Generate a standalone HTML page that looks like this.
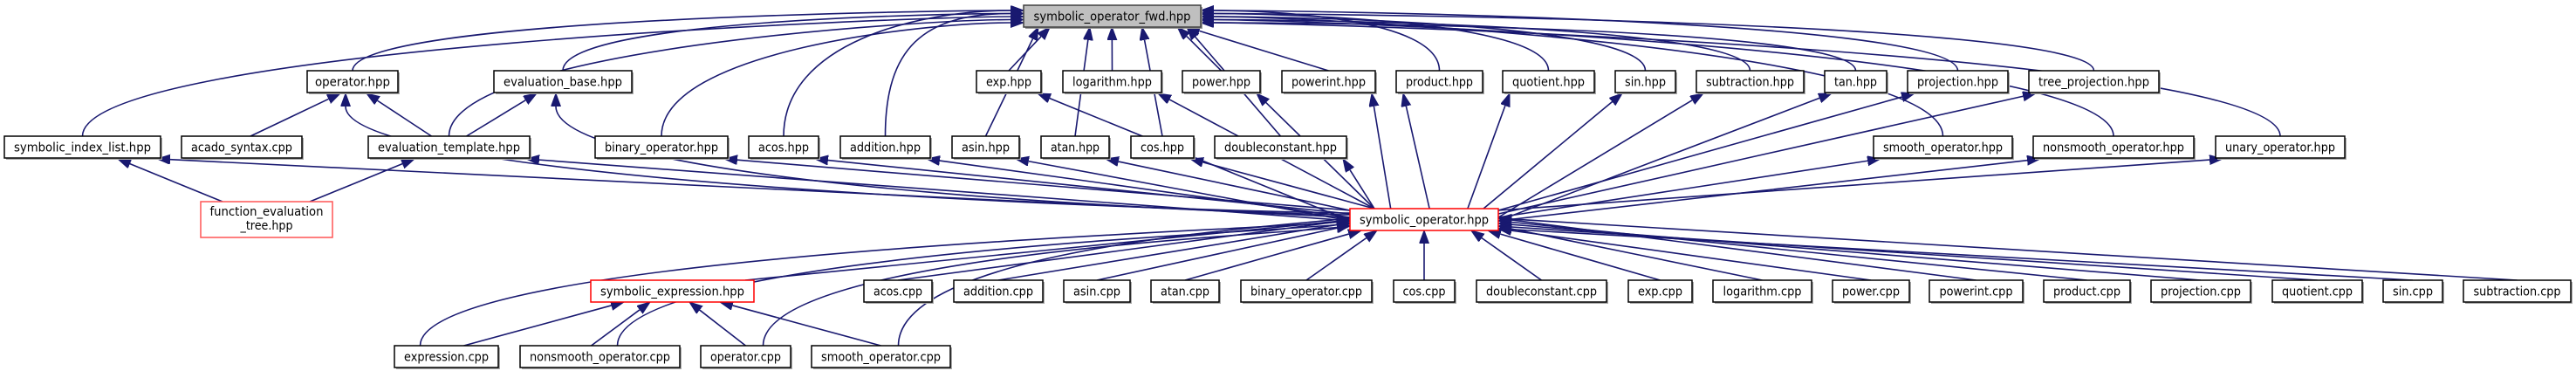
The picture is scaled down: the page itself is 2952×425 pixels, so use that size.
<!DOCTYPE html>
<html><head><meta charset="utf-8"><style>
html,body{margin:0;padding:0;background:#fff;width:2952px;height:425px;overflow:hidden;position:relative}
svg{display:block}
text{font-family:"DejaVu Sans","Liberation Sans",sans-serif;font-size:14px;fill:#000}
</style></head><body>
<svg id="s" width="2952" height="425" viewBox="0 0 2952 425" xmlns="http://www.w3.org/2000/svg" style="position:absolute;left:0;top:0">
<defs><marker id="a" markerUnits="userSpaceOnUse" markerWidth="16" markerHeight="12" refX="0" refY="5.5" orient="auto"><path d="M0,0 L15,5.5 L0,11 z" fill="#191970" stroke="#191970"/></marker></defs>
<g id="edges" fill="none" stroke="#191970" stroke-width="1.6"></g>
<g id="plain"></g>
<rect x="1175" y="8" width="203" height="25" fill="#999"/><rect x="1173" y="6" width="203" height="25" fill="#bfbfbf" stroke="#404040" stroke-width="1.5"/><text x="1274.5" y="23.5" text-anchor="middle" textLength="180" lengthAdjust="spacingAndGlyphs">symbolic_operator_fwd.hpp</text>
<rect x="1547" y="239" width="170" height="25" fill="#fff" stroke="#f00" stroke-width="1.5"/><text x="1632" y="256.5" text-anchor="middle" textLength="148" lengthAdjust="spacingAndGlyphs">symbolic_operator.hpp</text>
<rect x="230" y="231" width="151" height="41" fill="#fff" stroke="#f55" stroke-width="1.5"/><text x="305.5" y="247" text-anchor="middle" textLength="130" lengthAdjust="spacingAndGlyphs">function_evaluation</text><text x="305.5" y="263" text-anchor="middle" textLength="60" lengthAdjust="spacingAndGlyphs">_tree.hpp</text>
<rect x="677" y="321" width="187" height="25" fill="#fff" stroke="#f00" stroke-width="1.5"/><text x="770.5" y="338.5" text-anchor="middle" textLength="165" lengthAdjust="spacingAndGlyphs">symbolic_expression.hpp</text>
</svg>
<svg width="2952" height="425" viewBox="0 0 2952 425" xmlns="http://www.w3.org/2000/svg" style="position:absolute;left:0;top:0">
<g text-anchor="middle">
<text x="404" y="98.5" textLength="86" lengthAdjust="spacingAndGlyphs">operator.hpp</text>
<text x="645" y="98.5" textLength="136" lengthAdjust="spacingAndGlyphs">evaluation_base.hpp</text>
<text x="94.5" y="173.5" textLength="157" lengthAdjust="spacingAndGlyphs">symbolic_index_list.hpp</text>
<text x="277" y="173.5" textLength="116" lengthAdjust="spacingAndGlyphs">acado_syntax.cpp</text>
<text x="514.5" y="173.5" textLength="163" lengthAdjust="spacingAndGlyphs">evaluation_template.hpp</text>
<text x="758" y="173.5" textLength="130" lengthAdjust="spacingAndGlyphs">binary_operator.hpp</text>
<text x="898" y="173.5" textLength="58" lengthAdjust="spacingAndGlyphs">acos.hpp</text>
<text x="1014.5" y="173.5" textLength="81" lengthAdjust="spacingAndGlyphs">addition.hpp</text>
<text x="1129.5" y="173.5" textLength="55" lengthAdjust="spacingAndGlyphs">asin.hpp</text>
<text x="1232" y="173.5" textLength="56" lengthAdjust="spacingAndGlyphs">atan.hpp</text>
<text x="1332" y="173.5" textLength="50" lengthAdjust="spacingAndGlyphs">cos.hpp</text>
<text x="1467.5" y="173.5" textLength="129" lengthAdjust="spacingAndGlyphs">doubleconstant.hpp</text>
<text x="1156" y="98.5" textLength="52" lengthAdjust="spacingAndGlyphs">exp.hpp</text>
<text x="1274.5" y="98.5" textLength="91" lengthAdjust="spacingAndGlyphs">logarithm.hpp</text>
<text x="1399.5" y="98.5" textLength="67" lengthAdjust="spacingAndGlyphs">power.hpp</text>
<text x="1522.5" y="98.5" textLength="85" lengthAdjust="spacingAndGlyphs">powerint.hpp</text>
<text x="1649.5" y="98.5" textLength="77" lengthAdjust="spacingAndGlyphs">product.hpp</text>
<text x="1774.5" y="98.5" textLength="83" lengthAdjust="spacingAndGlyphs">quotient.hpp</text>
<text x="1885.5" y="98.5" textLength="47" lengthAdjust="spacingAndGlyphs">sin.hpp</text>
<text x="2005.5" y="98.5" textLength="101" lengthAdjust="spacingAndGlyphs">subtraction.hpp</text>
<text x="2126.5" y="98.5" textLength="49" lengthAdjust="spacingAndGlyphs">tan.hpp</text>
<text x="2243.5" y="98.5" textLength="93" lengthAdjust="spacingAndGlyphs">projection.hpp</text>
<text x="2399.5" y="98.5" textLength="127" lengthAdjust="spacingAndGlyphs">tree_projection.hpp</text>
<text x="2226.5" y="173.5" textLength="137" lengthAdjust="spacingAndGlyphs">smooth_operator.hpp</text>
<text x="2422" y="173.5" textLength="162" lengthAdjust="spacingAndGlyphs">nonsmooth_operator.hpp</text>
<text x="2613" y="173.5" textLength="126" lengthAdjust="spacingAndGlyphs">unary_operator.hpp</text>
<text x="1029" y="338.5" textLength="56" lengthAdjust="spacingAndGlyphs">acos.cpp</text>
<text x="1144" y="338.5" textLength="80" lengthAdjust="spacingAndGlyphs">addition.cpp</text>
<text x="1257" y="338.5" textLength="54" lengthAdjust="spacingAndGlyphs">asin.cpp</text>
<text x="1358" y="338.5" textLength="56" lengthAdjust="spacingAndGlyphs">atan.cpp</text>
<text x="1497" y="338.5" textLength="128" lengthAdjust="spacingAndGlyphs">binary_operator.cpp</text>
<text x="1632" y="338.5" textLength="49" lengthAdjust="spacingAndGlyphs">cos.cpp</text>
<text x="1766.5" y="338.5" textLength="127" lengthAdjust="spacingAndGlyphs">doubleconstant.cpp</text>
<text x="1902.5" y="338.5" textLength="51" lengthAdjust="spacingAndGlyphs">exp.cpp</text>
<text x="2019.5" y="338.5" textLength="90" lengthAdjust="spacingAndGlyphs">logarithm.cpp</text>
<text x="2144" y="338.5" textLength="66" lengthAdjust="spacingAndGlyphs">power.cpp</text>
<text x="2264.5" y="338.5" textLength="84" lengthAdjust="spacingAndGlyphs">powerint.cpp</text>
<text x="2391.5" y="338.5" textLength="77" lengthAdjust="spacingAndGlyphs">product.cpp</text>
<text x="2522" y="338.5" textLength="92" lengthAdjust="spacingAndGlyphs">projection.cpp</text>
<text x="2655.5" y="338.5" textLength="81" lengthAdjust="spacingAndGlyphs">quotient.cpp</text>
<text x="2765" y="338.5" textLength="46" lengthAdjust="spacingAndGlyphs">sin.cpp</text>
<text x="2884.5" y="338.5" textLength="100" lengthAdjust="spacingAndGlyphs">subtraction.cpp</text>
<text x="511.5" y="413.5" textLength="97" lengthAdjust="spacingAndGlyphs">expression.cpp</text>
<text x="687.5" y="413.5" textLength="161" lengthAdjust="spacingAndGlyphs">nonsmooth_operator.cpp</text>
<text x="854.5" y="413.5" textLength="81" lengthAdjust="spacingAndGlyphs">operator.cpp</text>
<text x="1009.5" y="413.5" textLength="137" lengthAdjust="spacingAndGlyphs">smooth_operator.cpp</text>
</g>
</svg>
<script>
var N={
opH:[352,456,81,1],evb:[566,724,81,1],
sil:[5,184,156,1],acs:[208,346,156,1],evt:[422,607,156,1],
bop:[682,834,156,1],acos:[858,938,156,1],add:[963,1066,156,1],asin:[1091,1168,156,1],
atan:[1193,1271,156,1],cos:[1296,1368,156,1],dc:[1392,1543,156,1],
exp:[1119,1193,81,1],log:[1218,1331,81,1],pow:[1355,1444,81,1],pint:[1469,1576,81,1],
prod:[1600,1699,81,1],quo:[1722,1827,81,1],sin:[1851,1920,81,1],sub:[1944,2067,81,1],
tan:[2091,2162,81,1],proj:[2186,2301,81,1],tproj:[2325,2474,81,1],
smh:[2147,2306,156,1],nsh:[2330,2514,156,1],uh:[2539,2687,156,1],
c_acos:[990,1068,321,1],c_add:[1093,1195,321,1],c_asin:[1219,1295,321,1],c_atan:[1319,1397,321,1],
c_bop:[1422,1572,321,1],c_cos:[1597,1667,321,1],c_dc:[1692,1841,321,1],c_exp:[1866,1939,321,1],
c_log:[1963,2076,321,1],c_pow:[2100,2188,321,1],c_pint:[2211,2318,321,1],c_prod:[2342,2441,321,1],
c_proj:[2465,2579,321,1],c_quo:[2604,2707,321,1],c_sin:[2731,2799,321,1],c_sub:[2823,2946,321,1],
expr:[452,571,396,1],nso:[596,779,396,1],opc:[803,906,396,1],smo:[930,1089,396,1],
se:[677,864,321]
};
var NS="http://www.w3.org/2000/svg";
var g=document.getElementById("edges");
function path(S,dS,E,dE,kf){
 var L=15;var m=Math.hypot(dE[0],dE[1]);dE=[dE[0]/m,dE[1]/m];
 var ex=E[0]-dE[0]*L,ey=E[1]-dE[1]*L;
 var d=Math.hypot(ex-S[0],ey-S[1]);var k=Math.min((kf||0.15)*d,Math.abs(ey-S[1])*0.6+20);
 var p=document.createElementNS(NS,"path");
 p.setAttribute("d","M"+S[0]+","+S[1]+" C"+(S[0]+dS[0]*k)+","+(S[1]+dS[1]*k)+" "+(ex-dE[0]*k)+","+(ey-dE[1]*k)+" "+ex+","+ey);
 p.setAttribute("marker-end","url(#a)");g.appendChild(p);
}
function cx(n){return (n[0]+n[1])/2}
function cl(v,a,b){return Math.max(a,Math.min(b,v))}
function dir(a,b){var x=b[0]-a[0],y=b[1]-a[1],m=Math.hypot(x,y);return [x/m,y/m];}
var H=["opH","evb","sil","evt","bop","acos","add","asin","atan","cos","dc","exp","log","pow","pint","prod","quo","sin","sub","tan","proj","tproj","smh","nsh","uh"];
H.forEach(function(k,i){
 var n=N[k],c=cx(n),S=[c,n[2]];
 if(c>1050&&c<1560){var E=[cl(1274+(c-1274)*0.6,1190,1360),31];path(S,dir(S,E),E,dir(S,E));}
 else if(c<=1050){path(S,[0,-1],[1173,12+(i%5)*3.5],[1,0],0.5);}
 else {path(S,[0,-1],[1376,12+(i%5)*3.5],[-1,0],0.5);}
});
H.forEach(function(k,j){
 var n=N[k],c=cx(n),E;
 if(k=="opH"||k=="evb"){E=[c-8,n[2]+26];path([1547,244+j*2],[-1,0],E,[0,-1],0.4);return;}
 if(c<1632)E=[n[1]-4,n[2]+26];else E=[n[0]+8,n[2]+26];
 var S;
 if(c>1250&&c<2000)S=[cl(1632+(c-1632)*0.35,1575,1700),239];
 else if(c<=1250)S=[1547,241+(j%4)*4];
 else S=[1717,241+(j%4)*4];
 var D=dir(S,E);path(S,D,E,D);
});
["c_acos","c_add","c_asin","c_atan","c_bop","c_cos","c_dc","c_exp","c_log","c_pow","c_pint","c_prod","c_proj","c_quo","c_sin","c_sub","se","expr","nso","opc","smo"].forEach(function(k,j){
 var n=N[k],c=cx(n),S=[c,n[2]],E;
 if(k=="se"){S=[n[1]-10,n[2]];E=[1547,252];}
 else if(k=="expr"||k=="nso"||k=="opc"||k=="smo"){S=[c+(k=="expr"?-30:20),n[2]];E=[1547,250+(j%4)*3];path(S,[0,-1],E,[1,-0.1],0.4);return;}
 else if(c>1350&&c<1950)E=[cl(1632+(c-1632)*0.4,1560,1705),264];
 else if(c<=1350)E=[1547,252+(j%4)*3];
 else E=[1717,250+(j%5)*3];
 var D=dir(S,E);path(S,D,E,D);
});
[["expr",715],["nso",745],["opc",790],["smo",825]].forEach(function(a){var n=N[a[0]];var S=[cx(n)+(a[0]=="expr"?20:(a[0]=="nso"?-10:0)),396],E=[a[1],346],D=dir(S,E);path(S,D,E,D);});
function st(S,E){var D=dir(S,E);path(S,D,E,D);}
st([cx(N.acs)+10,156],[390,107]);
st([cx(N.evt)-20,156],[420,107]);
st([cx(N.evt)+20,156],[615,107]);
st([255,231],[135,182]);
st([355,231],[475,182]);
var P=document.getElementById("plain"),h="";
for(var k in N){var n=N[k];if(n.length<4)continue;
 var w=n[1]-n[0];
 h+='<rect x="'+(n[0]+2)+'" y="'+(n[2]+2)+'" width="'+w+'" height="25" fill="#aaa"/><rect x="'+n[0]+'" y="'+n[2]+'" width="'+w+'" height="25" fill="#fff" stroke="#000" stroke-width="1.5"/>';
}
P.innerHTML=h;
</script>
</body></html>
